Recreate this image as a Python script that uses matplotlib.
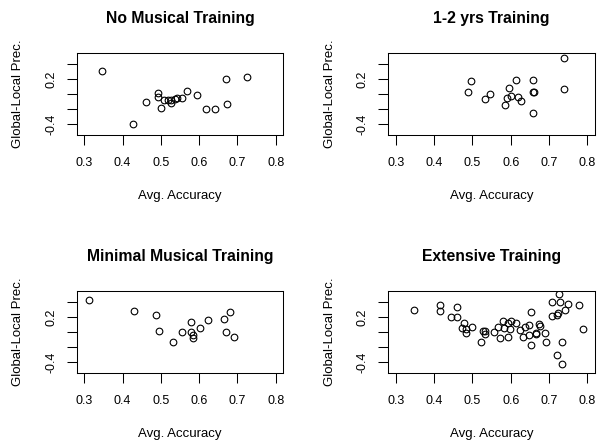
import matplotlib
matplotlib.use("Agg")
import matplotlib.pyplot as plt

plt.rcParams['font.family'] = ['Liberation Sans', 'DejaVu Sans']

# Veriler
titles = ["No Musical Training", "1-2 yrs Training",
          "Minimal Musical Training", "Extensive Training"]

none_acc = [0.346, 0.426, 0.460, 0.493, 0.493, 0.500, 0.507, 0.518, 0.527, 0.527,
            0.537, 0.541, 0.556, 0.568, 0.595, 0.618, 0.641, 0.669, 0.674, 0.726]
none_prec = [0.308, -0.397, -0.102, 0.017, -0.032, -0.181, -0.075, -0.075, -0.075, -0.119,
             -0.066, -0.053, -0.045, 0.048, -0.009, -0.194, -0.194, 0.206, -0.124, 0.233]

short_acc = [0.495, 0.489, 0.534, 0.545, 0.585, 0.590, 0.596, 0.602, 0.614, 0.619,
             0.626, 0.659, 0.659, 0.661, 0.659, 0.739, 0.739]
short_prec = [0.172, 0.026, -0.066, 0.004, -0.146, -0.045, 0.079, -0.018, 0.185, -0.032,
              -0.093, 0.185, 0.026, 0.026, -0.247, 0.484, 0.070]

min_acc = [0.311, 0.431, 0.488, 0.494, 0.533, 0.556, 0.579, 0.579, 0.585, 0.585,
           0.601, 0.624, 0.664, 0.681, 0.670, 0.692]
min_prec = [0.427, 0.282, 0.233, 0.013, -0.132, 0.004, 0.140, 0.004, -0.036, -0.079,
            0.053, 0.163, 0.176, 0.260, 0.004, -0.066]

ext_acc = [0.347, 0.415, 0.415, 0.443, 0.460, 0.460, 0.478, 0.472, 0.483, 0.483,
           0.500, 0.523, 0.528, 0.534, 0.534, 0.557, 0.567, 0.579, 0.583, 0.573,
           0.592, 0.593, 0.598, 0.602, 0.615, 0.624, 0.631, 0.637, 0.647, 0.649,
           0.654, 0.654, 0.665, 0.667, 0.675, 0.677, 0.689, 0.693, 0.709, 0.709,
           0.721, 0.724, 0.726, 0.728, 0.733, 0.741, 0.750, 0.779, 0.790, 0.721,
           0.733]
ext_prec = [0.291, 0.361, 0.273, 0.206, 0.335, 0.198, 0.119, 0.061, 0.040, -0.013,
            0.074, -0.132, 0.021, 0.021, -0.026, 0.000, 0.074, 0.150, 0.061, -0.071,
            -0.066, 0.127, 0.040, 0.150, 0.119, 0.030, -0.058, 0.074, -0.036, 0.097,
            0.265, -0.168, -0.026, -0.005, 0.106, 0.087, -0.013, -0.132, 0.405, 0.220,
            0.229, 0.251, 0.503, 0.397, -0.124, 0.295, 0.370, 0.361, 0.040, -0.304,
            -0.419]

x_ticks = [0.3, 0.4, 0.5, 0.6, 0.7, 0.8]
y_ticks = [-0.4, -0.2, 0.0, 0.2, 0.4]
y_ticklabels = ["-0.4", "", "", "0.2", ""]

gruplar = [(none_acc, none_prec), (short_acc, short_prec),
           (min_acc, min_prec), (ext_acc, ext_prec)]

W, H = 598, 440
fig = plt.figure(figsize=(W / 100, H / 100), dpi=100)

# panel konumlari (piksel): sol, ust
konumlar = [(76.7, 53.3), (388.3, 53.3), (76.7, 291.3), (388.3, 291.3)]
pw, ph = 206.6, 81.7

for (x0, y0), (xs, ys), title in zip(konumlar, gruplar, titles):
    ax = fig.add_axes([x0 / W, 1 - (y0 + ph) / H, pw / W, ph / H])
    ax.plot(xs, ys, 'o', mfc='none', mec='black', ms=4.8, mew=0.8)
    ax.set_xlim(0.28, 0.82)
    ax.set_ylim(-0.54, 0.54)
    ax.set_xticks(x_ticks)
    ax.set_xticklabels([f"{v:.1f}" for v in x_ticks], fontsize=9)
    ax.set_yticks(y_ticks)
    ax.set_yticklabels(y_ticklabels, fontsize=9, rotation=90, va='center')
    ax.tick_params(axis='x', length=7, width=0.75, pad=9)
    ax.tick_params(axis='y', length=7, width=0.75, pad=7)
    for s in ax.spines.values():
        s.set_linewidth(0.75)
    ax.set_xlabel("Avg. Accuracy", fontsize=9.5)
    ax.xaxis.set_label_coords(0.5, -0.747)
    ax.xaxis.label.set_va('center')
    ax.set_ylabel("Global-Local Prec.", fontsize=9.5)
    ax.yaxis.set_label_coords(-0.284, 0.5)
    ax.yaxis.label.set_va('center')
    ax.text(0.5, 1.367, title, transform=ax.transAxes, ha='center', va='baseline',
            fontsize=11.3, fontweight='bold')

fig.savefig("out.png", dpi=100)
